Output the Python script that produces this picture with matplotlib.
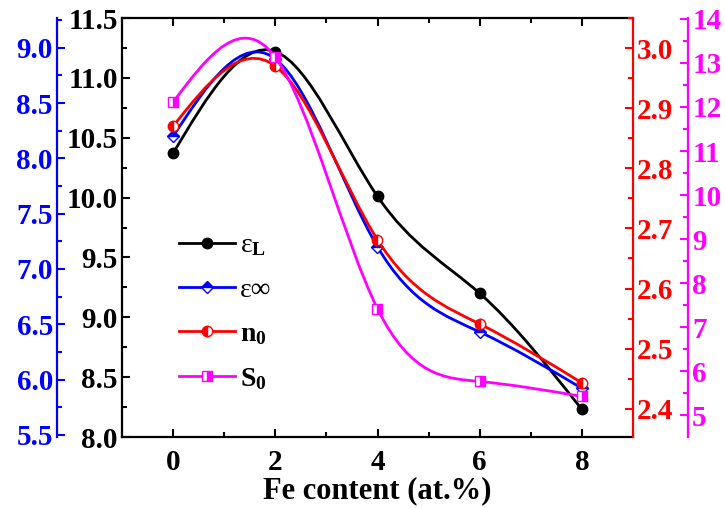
import numpy as np
import matplotlib
matplotlib.use("Agg")
import matplotlib.pyplot as plt
from matplotlib.path import Path
from matplotlib.patches import PathPatch
from matplotlib.lines import Line2D
from matplotlib.ticker import MultipleLocator

plt.rcParams["font.family"] = ["Liberation Serif", "DejaVu Serif"]
plt.rcParams["font.weight"] = "bold"
plt.rcParams["mathtext.fontset"] = "custom"
plt.rcParams["mathtext.rm"] = "Liberation Serif"
plt.rcParams["mathtext.bf"] = "Liberation Serif:bold"
plt.rcParams["mathtext.it"] = "Liberation Serif:italic"

# data
fe = [0, 2, 4, 6, 8]
eps_l = [10.37, 11.22, 10.01, 9.20, 8.23]
eps_inf = [8.20, 8.90, 7.20, 6.43, 5.92]
n0 = [2.870, 2.970, 2.681, 2.541, 2.443]
s0 = [12.11, 13.13, 7.42, 5.77, 5.43]

BLUE = "#0000ff"
RED = "#ff0000"
MAG = "#ff00ff"


def spline_path(x, y):
    """Natural cubic spline through the points, written as Bezier segments."""
    x = np.asarray(x, float)
    y = np.asarray(y, float)
    n = len(x)
    h = np.diff(x)
    A = np.zeros((n, n))
    r = np.zeros(n)
    A[0, 0] = A[-1, -1] = 1
    for i in range(1, n - 1):
        A[i, i - 1] = h[i - 1]
        A[i, i] = 2 * (h[i - 1] + h[i])
        A[i, i + 1] = h[i]
        r[i] = 6 * ((y[i + 1] - y[i]) / h[i] - (y[i] - y[i - 1]) / h[i - 1])
    M = np.linalg.solve(A, r)
    verts = [(x[0], y[0])]
    codes = [Path.MOVETO]
    for i in range(n - 1):
        s = (y[i + 1] - y[i]) / h[i]
        d0 = s - h[i] * (2 * M[i] + M[i + 1]) / 6
        d1 = s + h[i] * (M[i] + 2 * M[i + 1]) / 6
        verts += [(x[i] + h[i] / 3, y[i] + h[i] * d0 / 3),
                  (x[i + 1] - h[i] / 3, y[i + 1] - h[i] * d1 / 3),
                  (x[i + 1], y[i + 1])]
        codes += [Path.CURVE4] * 3
    return Path(verts, codes)


fig = plt.figure(figsize=(7.25, 5.08), dpi=100)
ax = fig.add_axes([122 / 725, 71 / 508, 511 / 725, 419 / 508])
ax_b = ax.twinx()
ax_r = ax.twinx()
ax_m = ax.twinx()

LW = 1.6
tick_kw = dict(direction="in", width=1.5, labelsize=21)

# main (black) axis
ax.set_xlim(-1, 9)
ax.set_ylim(8.0, 11.5)
ax.xaxis.set_major_locator(MultipleLocator(2))
ax.xaxis.set_minor_locator(MultipleLocator(1))
ax.yaxis.set_major_locator(MultipleLocator(0.5))
ax.yaxis.set_minor_locator(MultipleLocator(0.25))
ax.yaxis.set_major_formatter(lambda v, p: f"{v:.1f}")
ax.tick_params(axis="both", which="major", length=6, pad=3, top=True, **tick_kw)
ax.tick_params(axis="x", which="major", pad=9)
ax.tick_params(axis="both", which="minor", length=3.5, width=1.5, direction="in", top=True)
ax.tick_params(axis="y", right=False, which="both")
for sp in ["left", "top", "bottom"]:
    ax.spines[sp].set_linewidth(LW)
ax.spines["right"].set_visible(False)
ax.set_xlabel("Fe content (at.%)", fontsize=22, fontweight="bold", labelpad=0)

# blue axis (outer left)
ax_b.set_ylim(5.48, 9.27)
ax_b.yaxis.set_ticks_position("left")
ax_b.yaxis.set_label_position("left")
ax_b.spines["left"].set_position(("axes", -0.127))
ax_b.spines["left"].set_visible(True)
ax_b.spines["left"].set_color(BLUE)
ax_b.spines["left"].set_linewidth(LW)
for sp in ["right", "top", "bottom"]:
    ax_b.spines[sp].set_visible(False)
ax_b.yaxis.set_major_locator(MultipleLocator(0.5))
ax_b.yaxis.set_minor_locator(MultipleLocator(0.25))
ax_b.yaxis.set_major_formatter(lambda v, p: f"{v:.1f}")
ax_b.tick_params(axis="y", which="major", length=6, pad=3, colors=BLUE, **tick_kw)
ax_b.tick_params(axis="y", which="minor", length=3.5, width=1.5, direction="in", colors=BLUE)

# red axis (right)
ax_r.set_ylim(2.353, 3.05)
ax_r.spines["right"].set_color(RED)
ax_r.spines["right"].set_linewidth(LW)
for sp in ["left", "top", "bottom"]:
    ax_r.spines[sp].set_visible(False)
ax_r.yaxis.set_major_locator(MultipleLocator(0.1))
ax_r.yaxis.set_minor_locator(MultipleLocator(0.05))
ax_r.yaxis.set_major_formatter(lambda v, p: f"{v:.1f}")
ax_r.tick_params(axis="y", which="major", length=6, pad=3, colors=RED, **tick_kw)
ax_r.tick_params(axis="y", which="minor", length=3.5, width=1.5, direction="in", colors=RED)

# magenta axis (outer right)
ax_m.set_ylim(4.51, 14.02)
ax_m.spines["right"].set_position(("axes", 1.1076))
ax_m.spines["right"].set_color(MAG)
ax_m.spines["right"].set_linewidth(LW)
for sp in ["left", "top", "bottom"]:
    ax_m.spines[sp].set_visible(False)
ax_m.yaxis.set_major_locator(MultipleLocator(1))
ax_m.yaxis.set_minor_locator(MultipleLocator(0.5))
ax_m.yaxis.set_major_formatter(lambda v, p: f"{v:.0f}")
ax_m.tick_params(axis="y", which="major", length=6, pad=3, colors=MAG, **tick_kw)
ax_m.tick_params(axis="y", which="minor", length=3.5, width=1.5, direction="in", colors=MAG)

# series
series = [
    (ax, eps_l, "black", dict(marker="o", markerfacecolor="black", markeredgecolor="black")),
    (ax_b, eps_inf, BLUE, dict(marker="D", fillstyle="top", markerfacecolor=BLUE,
                               markerfacecoloralt="white", markeredgecolor=BLUE, markersize=6.5)),
    (ax_r, n0, RED, dict(marker="o", fillstyle="left", markerfacecolor=RED,
                         markerfacecoloralt="white", markeredgecolor=RED)),
    (ax_m, s0, MAG, dict(marker="s", fillstyle="right", markerfacecolor=MAG,
                         markerfacecoloralt="white", markeredgecolor=MAG, markersize=6.5)),
]
handles = []
for a, vals, col, mk in series:
    a.add_patch(PathPatch(spline_path(fe, vals), facecolor="none", edgecolor=col,
                          linewidth=2.0, zorder=2))
    mk.setdefault("markersize", 7.5)
    a.plot(fe, vals, linestyle="none", zorder=3, **mk)
    handles.append(Line2D([], [], color=col, linewidth=2.0, **mk))

labels = ["ε$_\\mathrm{L}$", "ε∞", "n$_\\mathbf{0}$", "S$_\\mathbf{0}$"]
leg = ax_m.legend(handles, labels, loc="upper left", bbox_to_anchor=(0.112, 0.487),
                  frameon=False, fontsize=20, handlelength=2.0, handletextpad=0.2,
                  labelspacing=0.68, borderpad=0, borderaxespad=0)
leg.get_texts()[0].set_fontweight("normal")
leg.get_texts()[1].set_fontweight("normal")

fig.savefig("out.png", dpi=100)
